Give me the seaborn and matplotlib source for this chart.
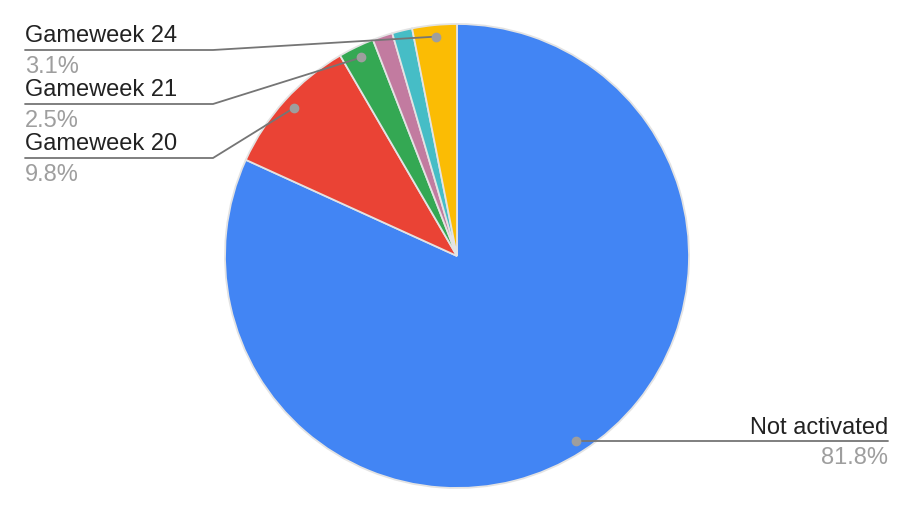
import numpy as np
import matplotlib
matplotlib.use("Agg")
import matplotlib.pyplot as plt
import seaborn as sns

labels = ["Not activated", "Gameweek 20", "Gameweek 21", "Gameweek 22", "Gameweek 23", "Gameweek 24"]
values = [81.8, 9.8, 2.5, 1.4, 1.4, 3.1]
colors = ["#4285F4", "#EA4335", "#34A853", "#C27BA0", "#46BDC6", "#FBBC04"]
shown = ["Not activated", "Gameweek 20", "Gameweek 21", "Gameweek 24"]

sns.set_theme(style="white")
plt.rcParams["font.family"] = ["Liberation Sans", "DejaVu Sans"]

W, H = 914, 516
fig = plt.figure(figsize=(W / 100, H / 100), dpi=100)
ax = fig.add_axes([0, 0, 1, 1])

cx, cy, R = 457, H - 256, 232
wedges, _ = ax.pie(values, colors=colors, startangle=90, counterclock=False,
                   center=(cx, cy), radius=R, frame=True,
                   wedgeprops=dict(edgecolor="#e3e3e3", linewidth=1.3))
ax.set_xlim(0, W)
ax.set_ylim(0, H)
ax.axis("off")

# label layout: (text x, line y in pixels, kink x, align)
layout = {
    "Gameweek 24": (25, 50, 213, "left"),
    "Gameweek 21": (25, 104, 213, "left"),
    "Gameweek 20": (25, 158, 213, "left"),
    "Not activated": (888, 441, 575, "right"),
}
for lab, val, w in zip(labels, values, wedges):
    if lab not in shown:
        continue
    ang = np.deg2rad((w.theta1 + w.theta2) / 2)
    dx = cx + 0.95 * R * np.cos(ang)
    dy = cy + 0.95 * R * np.sin(ang)
    tx, ly, kx, ha = layout[lab]
    ly = H - ly
    if ha == "left":
        ax.plot([tx, kx, dx], [ly, ly, dy], color="#757575", lw=1.3, zorder=5)
    else:
        ax.plot([tx, dx], [ly, ly], color="#757575", lw=1.3, zorder=5)
    ax.plot([dx], [dy], "o", color="#9e9e9e", ms=6, zorder=6)
    ax.text(tx, ly + 7.5, lab, ha=ha, va="baseline", fontsize=17, color="#222222")
    ax.text(tx, ly - 23, f"{val}%", ha=ha, va="baseline", fontsize=17, color="#9e9e9e")

fig.savefig("out.png", dpi=100)
